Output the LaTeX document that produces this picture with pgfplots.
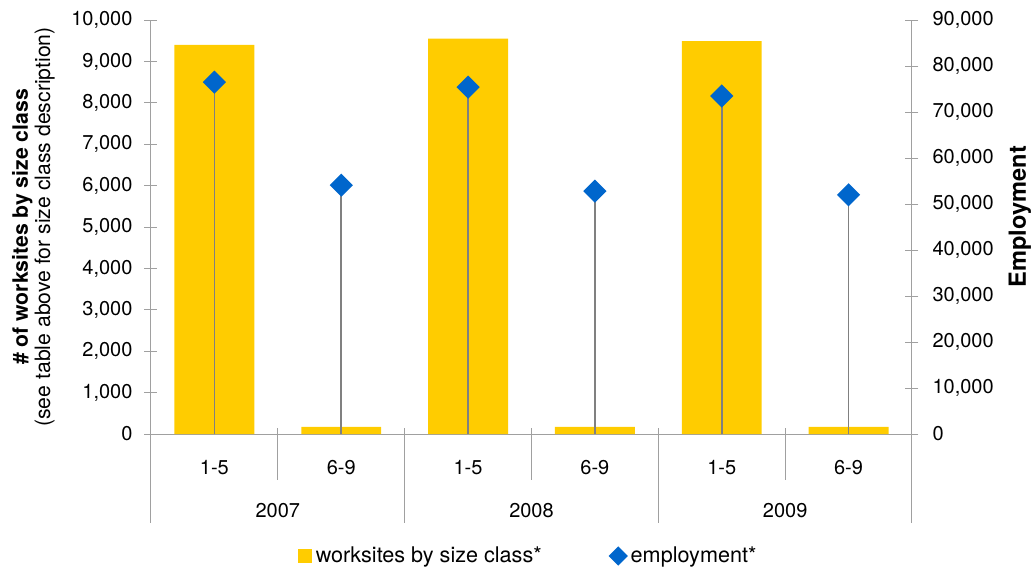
\documentclass[border=0pt]{standalone}
\usepackage{fontspec}
\setmainfont{TeX Gyre Heros}
\usepackage{pgfplots}
\pgfplotsset{compat=1.18}
\definecolor{baryellow}{HTML}{FFCC00}
\definecolor{empblue}{HTML}{0066CC}
\definecolor{axgray}{HTML}{A0A0A0}
\definecolor{stemgray}{HTML}{808080}
\pgfplotsset{
  mybase/.style={
    scale only axis, width=380.5pt, height=207pt,
    at={(0,0)}, anchor=south west,
    xmin=-0.5, xmax=5.5,
    tick align=center, major tick length=6.5pt,
    axis line style={axgray, line width=0.5pt},
    ytick style={axgray, line width=0.5pt},
    scaled y ticks=false,
    tick label style={font=\fontsize{10}{12}\selectfont},
    /pgf/number format/.cd, 1000 sep={,}, assume math mode=true,
  }
}
\begin{document}
\begin{tikzpicture}[font=\fontsize{10.8}{13}\selectfont]
\path[use as bounding box] (-75.5pt,-68pt) rectangle (441pt,217pt);
\begin{axis}[mybase,
  clip=false,
  ymin=0, ymax=10000,
  axis y line*=left, axis x line*=bottom,
  ytick={0,1000,...,10000},
  yticklabel style={xshift=-2.5pt},
  xtick={0,1,2,3,4,5},
  xticklabels={1-5,6-9,1-5,6-9,1-5,6-9},
  xtick style={draw=none},
  xticklabel style={anchor=base, yshift=-13.5pt},
  ybar, bar width=0.63,
  ylabel={\textbf{\# of worksites by size class}\\(see table above for size class description)},
  ylabel style={align=center, at={(axis description cs:-0.1261,0.5)}, anchor=south, inner sep=0pt, font=\fontsize{10.6}{9.8}\selectfont},
]
\addplot[fill=baryellow, draw=none] coordinates {(0,9400) (1,170) (2,9550) (3,170) (4,9490) (5,170)};
% category separators
\draw[axgray, line width=0.5pt] ([yshift=3pt]axis cs:0.5,0) -- ([yshift=-23pt]axis cs:0.5,0);
\draw[axgray, line width=0.5pt] ([yshift=3pt]axis cs:2.5,0) -- ([yshift=-23pt]axis cs:2.5,0);
\draw[axgray, line width=0.5pt] ([yshift=3pt]axis cs:4.5,0) -- ([yshift=-23pt]axis cs:4.5,0);
\draw[axgray, line width=0.5pt] ([yshift=3pt]axis cs:1.5,0) -- ([yshift=-44.5pt]axis cs:1.5,0);
\draw[axgray, line width=0.5pt] ([yshift=3pt]axis cs:3.5,0) -- ([yshift=-44.5pt]axis cs:3.5,0);
\draw[axgray, line width=0.5pt] (axis cs:-0.5,0) -- ([yshift=-44.5pt]axis cs:-0.5,0);
\draw[axgray, line width=0.5pt] (axis cs:5.5,0) -- ([yshift=-44.5pt]axis cs:5.5,0);
\node[anchor=base, font=\fontsize{10}{12}\selectfont] at ([yshift=-41.5pt]axis cs:0.5,0) {2007};
\node[anchor=base, font=\fontsize{10}{12}\selectfont] at ([yshift=-41.5pt]axis cs:2.5,0) {2008};
\node[anchor=base, font=\fontsize{10}{12}\selectfont] at ([yshift=-41.5pt]axis cs:4.5,0) {2009};
\end{axis}
\begin{axis}[mybase,
  ymin=0, ymax=90000,
  axis y line*=right, axis x line=none,
  ytick={0,10000,...,90000},
  yticklabel style={xshift=3.5pt},
  ylabel={\textbf{Employment}},
  ylabel style={at={(axis description cs:1.1498,0.525)}, anchor=base, font=\fontsize{11.8}{13}\selectfont},
  legend style={draw=none, fill=none, at={(axis description cs:0.497,-0.2947)}, anchor=center,
    legend columns=2, font=\fontsize{10.8}{13}\selectfont,
    /tikz/every even column/.append style={column sep=32pt}},
  legend cell align=left,
]
\addlegendimage{legend image code/.code={\fill[baryellow] (0pt,-3.25pt) rectangle (6.5pt,3.25pt);}}
\addlegendentry{worksites by size class*}
\addplot[ycomb, stemgray, line width=0.8pt, mark=square*, mark size=3.7pt,
  mark options={fill=empblue, draw=empblue, rotate=45},
  legend image code/.code={\path[draw=none] plot[mark=square*, mark size=3pt, mark options={fill=empblue, draw=empblue, rotate=45}] coordinates {(3pt,0pt)};}]
  coordinates {(0,76500) (1,54100) (2,75400) (3,52800) (4,73500) (5,52000)};
\addlegendentry{employment*}
\end{axis}
\end{tikzpicture}
\end{document}
